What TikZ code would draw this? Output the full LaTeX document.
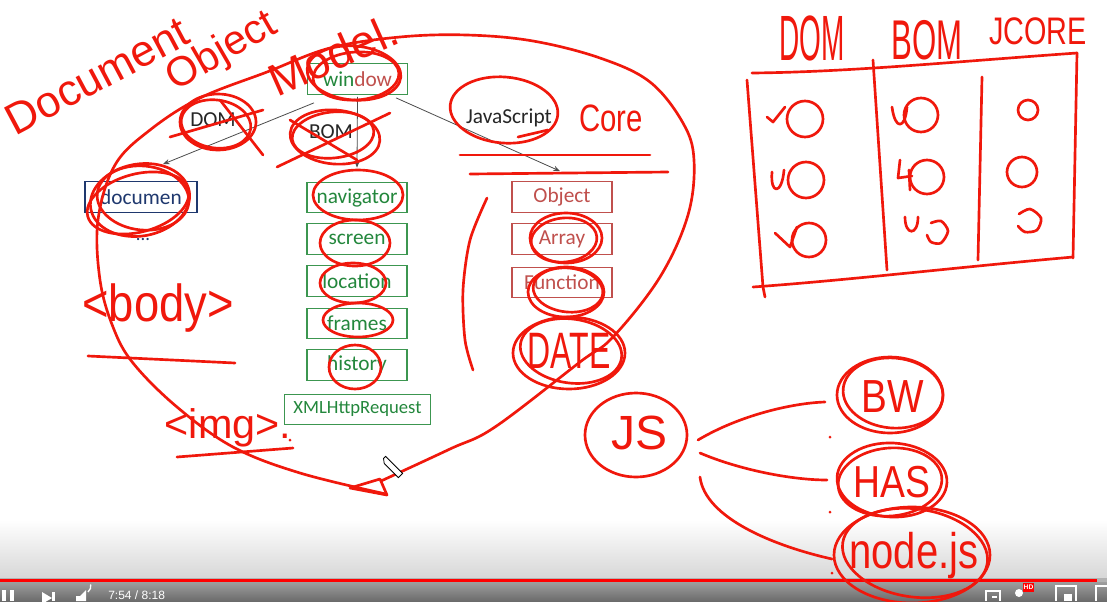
\documentclass[tikz,border=0pt]{standalone}
\usepackage{fontspec}
\setmainfont{Carlito}
\newfontfamily\hwfont{Liberation Sans}
\newfontfamily\uifont{Liberation Sans}
\usetikzlibrary{arrows.meta,calc}
\definecolor{hwred}{RGB}{240,24,12}
\definecolor{boxgreen}{RGB}{60,150,80}
\definecolor{txtgreen}{RGB}{35,135,60}
\definecolor{boxred}{RGB}{192,80,77}
\definecolor{navy}{RGB}{31,56,110}
\definecolor{ytred}{RGB}{255,0,0}
\newcommand{\hfs}[1]{\fontsize{#1}{#1}\selectfont}
\newcommand{\hwel}[5]{\draw[hw, rotate around={#5:(#1,#2)}] (#1,#2) ellipse [x radius=#3, y radius=#4];}
\tikzset{
  hw/.style={draw=hwred, line width=2pt, line cap=round, line join=round},
  hwt/.style={text=hwred, font=\hwfont, inner sep=0pt},
  gbox/.style={draw=boxgreen, line width=0.8pt, text=txtgreen, minimum width=75pt, minimum height=23pt, inner sep=0pt, font=\hfs{16}},
  rbox/.style={gbox, draw=boxred, text=boxred},
  bbox/.style={gbox, draw=navy, text=navy, minimum width=84pt},
  lbl/.style={text=black!85, font=\hfs{16}, inner sep=0pt},
  conn/.style={draw=black!70, line width=0.6pt, -{Stealth[length=5pt,width=4pt]}},
  uiw/.style={fill=white, draw=none},
}
\begin{document}
\begin{tikzpicture}[x=0.75pt, y=-0.75pt]
\useasboundingbox (0,0) rectangle (1107,601);
\fill[white] (0,0) rectangle (1107,601);
% ---- player chrome ----
\shade[top color=white, bottom color=black!16] (0,520) rectangle (1107,579);
\shade[top color=black!38, bottom color=black!58] (0,582) rectangle (1107,601);
\fill[black!30] (0,578) rectangle (1107,582);
\fill[ytred] (0,578.5) rectangle (1097,582);
\fill[uiw] (2,590) rectangle (6,601);
\fill[uiw] (10,590) rectangle (14,601);
\fill[uiw] (42,592) -- (52,598) -- (42,604) -- cycle;
\fill[uiw] (52,592) rectangle (55,601);
\fill[uiw] (76,596) rectangle (80,601) -- (80,596) -- (86,590) -- (86,601) -- (80,601);
\draw[white, line width=1pt] (88,592) arc[start angle=50, end angle=-10, radius=8];
\node[anchor=west, text=white, font=\uifont\hfs{9}, inner sep=0pt] (time) at (108,595) {7:54 / 8:18};
\draw[white, line width=1.6pt] (986,601) -- (986,591) -- (1000,591) -- (1000,601);
\draw[white, line width=1.2pt] (992,597) -- (997,597);
\fill[white] (1019,593) circle (4);
\fill[ytred] (1023,583) rectangle (1034,592);
\node[text=white, font=\uifont\bfseries\hfs{5}, inner sep=0pt] (hd) at (1028.5,587.5) {HD};
\draw[white, line width=1.6pt] (1056,601) -- (1056,586) -- (1076,586) -- (1076,601);
\fill[white] (1064,594) rectangle (1072,601);
\draw[white, line width=1.6pt] (1096,601) -- (1096,586) -- (1108,586);
% ---- typed diagram ----
\node[gbox] (window) at (357.5,79) {{\color{txtgreen}win}{\color{boxred}dow}};
\node[bbox] (document) at (141,197) {documen};
\node[text=navy, font=\hfs{14}, inner sep=0pt] (dots) at (143,240) {...};
\node[gbox] (navigator) at (357,197.5) {navigator};
\node[gbox] (screen) at (357,239) {screen};
\node[gbox] (location) at (357,281) {location};
\node[gbox] (frames) at (357,323.5) {frames};
\node[gbox] (history) at (357,365) {history};
\node[gbox, minimum width=110pt, font=\hfs{14}] (xhr) at (357.5,409.5) {XMLHttpRequest};
\node[rbox] (Object) at (562,197) {Object};
\node[rbox] (Array) at (562,239) {Array};
\node[rbox] (Function) at (562,282.5) {Function};
\node[lbl] (dom) at (213,120) {DOM};
\node[lbl] (bom) at (331,132) {BOM};
\node[lbl] (js0) at (509,118) {JavaScript};
\draw[conn] ($(window.south west)+(7,8)$) -- ($(document.north)+(22,-17)$);
\draw[conn] ($(window.south)+(0,2)$) -- ($(navigator.north)+(0,-14)$);
\draw[conn] ($(window.south east)+(-12,3)$) -- ($(Object.north)+(-2,-10)$);
% ---- handwriting ----
\node[hwt, rotate=28, font=\hwfont\hfs{33}] (tdoc) at (97,76) {Document};
\node[hwt, rotate=30, font=\hwfont\hfs{31}] (tobj) at (222,52) {Object};
\node[hwt, rotate=24, font=\hwfont\hfs{34}] (tmod) at (333,55) {Model.};
\draw[hw] plot[smooth, tension=0.6] coordinates {(381,481) (450,449) (495,427) (580,362) (613,337) (660,277) (688,215) (694,160) (683,123) (650,82) (600,58) (533,41) (467,35) (400,37) (330,48) (267,72) (200,98) (150,130) (115,165) (98,220) (100,280) (113,327) (133,363) (177,407) (233,447) (300,473) (386,494)};
\draw[hw] (350,488) -- (380,479) -- (387,495) -- cycle;
% circles on typed items
\hwel{354}{73}{47}{27}{-5}
\hwel{356}{76}{43}{24}{4}
\hwel{218}{122}{38}{28}{0}
\hwel{216}{124}{35}{24}{-8}
\draw[hw] (170,137) -- (263,110);
\draw[hw] (220,100) -- (263,155);
\hwel{335}{137}{45}{27}{-5}
\hwel{333}{135}{41}{23}{6}
\draw[hw] (277,167) -- (390,113);
\draw[hw] (290,120) -- (357,160);
\hwel{140}{200}{50}{36}{10}
\hwel{143}{198}{46}{32}{-6}
\hwel{138}{203}{52}{29}{15}
\hwel{358}{195}{45}{25}{0}
\hwel{355}{243}{35}{23}{0}
\hwel{353}{283}{33}{20}{0}
\hwel{358}{320}{35}{17}{0}
\hwel{355}{367}{26}{22}{0}
\hwel{504}{110}{54}{33}{-5}
\draw[hw] (518,137) -- (548,130);
\hwel{566}{238}{36}{25}{0}
\hwel{564}{240}{33}{22}{6}
\hwel{566}{292}{38}{25}{0}
\hwel{568}{290}{35}{22}{-6}
\hwel{569}{353}{56}{36}{0}
\hwel{571}{351}{51}{32}{-8}
\node[hwt, font=\hwfont\hfs{24}, yscale=1.6] (tdate) at (569,351) {DATE};
\node[hwt, font=\hwfont\hfs{22}, yscale=1.3] (tcore) at (611,118) {Core};
\draw[hw] (460,155) -- (650,155);
\draw[hw] (470,174) -- (668,172);
\draw[hw] plot[smooth] coordinates {(487,198) (470,240) (463,290) (465,340) (473,370)};
\node[hwt, font=\hwfont\hfs{34}, yscale=1.15] (tbody) at (158,308) {<body>};
\draw[hw] (88,356) -- (235,363);
\node[hwt, font=\hwfont\hfs{31}] (timg) at (228,428) {<img>.};
\draw[hw] (177,457) -- (293,448);
% cursor
\draw[black, fill=white, line width=0.6pt, rotate around={-45:(392,467)}] (380,464) -- (384,464) -- (404,464) -- (404,470) -- (384,470) -- (380,467) -- cycle;
% ---- table ----
\node[hwt, font=\hwfont\hfs{30}, xscale=0.7, yscale=1.6] (hdom) at (812,38) {DOM};
\node[hwt, font=\hwfont\hfs{30}, xscale=0.78, yscale=1.4] (hbom) at (927,40) {BOM};
\node[hwt, font=\hwfont\hfs{24}, xscale=0.9, yscale=1.2] (hjc) at (1038,31) {JCORE};
\draw[hw] (752,73) .. controls (850,72) and (950,62) .. (1077,53);
\draw[hw] (747,80) -- (763,287) -- (765,297);
\draw[hw] (753,287) .. controls (850,280) and (950,268) .. (1073,257);
\draw[hw] (1077,53) -- (1073,258);
\draw[hw] (873,60) -- (887,270);
\draw[hw] (982,77) -- (978,260);
\draw[hw] (767,117) -- (773,122) -- (785,107);
\draw[hw] (805,119) circle [radius=18];
\draw[hw] (772,172) .. controls (770,195) and (782,195) .. (784,170);
\draw[hw] (806,180) circle [radius=18];
\draw[hw] (775,233) -- (790,247) -- (797,227);
\draw[hw] (809,240) circle [radius=17];
\draw[hw] (892,107) .. controls (895,130) and (905,130) .. (907,107);
\draw[hw] (921,115) circle [radius=17];
\draw[hw] (900,160) -- (898,178) -- (912,176);
\draw[hw] (909,170) -- (910,190);
\draw[hw] (927,177) circle [radius=17];
\draw[hw] (905,217) .. controls (905,236) and (918,236) .. (918,217);
\draw[hw] plot[smooth] coordinates {(931,223) (941,221) (948,231) (941,243) (931,242) (927,235)};
\draw[hw] (1028,110) circle [radius=10];
\draw[hw] (1022,172) circle [radius=15];
\draw[hw] plot[smooth] coordinates {(1019,214) (1030,209) (1041,218) (1037,230) (1025,232) (1018,226)};
% ---- JS part ----
\hwel{636}{435}{51}{42}{0}
\node[hwt, font=\hwfont\hfs{36}] (js) at (640,433) {JS};
\hwel{890}{395}{53}{38}{0}
\hwel{893}{393}{50}{35}{-5}
\node[hwt, font=\hwfont\hfs{29}, yscale=1.2] (bw) at (893,397) {BW};
\hwel{892}{480}{55}{37}{-3}
\hwel{890}{482}{52}{34}{5}
\node[hwt, font=\hwfont\hfs{28}, yscale=1.2] (has) at (892,482) {HAS};
\hwel{912}{555}{78}{48}{0}
\hwel{915}{553}{73}{44}{-8}
\node[hwt, font=\hwfont\hfs{30}, yscale=1.25] (node) at (914,556) {node.js};
\draw[hw] ($(js)+(58,7)$) .. controls ($(js)+(100,-18)$) and ($(bw)+(-100,6)$) .. ($(bw)+(-68,5)$);
\draw[hw] ($(js)+(60,20)$) .. controls ($(js)+(100,37)$) and ($(has)+(-100,-2)$) .. ($(has)+(-65,-2)$);
\draw[hw] ($(js)+(60,44)$) .. controls ($(js)+(65,85)$) and ($(node)+(-140,-10)$) .. ($(node)+(-82,3)$);
\fill[hwred] (830,437) circle (1.5);
\fill[hwred] (830,512) circle (1.5);
\fill[hwred] (832,573) circle (1.5);
\fill[hwred] (290,440) circle (1.5);
\end{tikzpicture}
\end{document}
